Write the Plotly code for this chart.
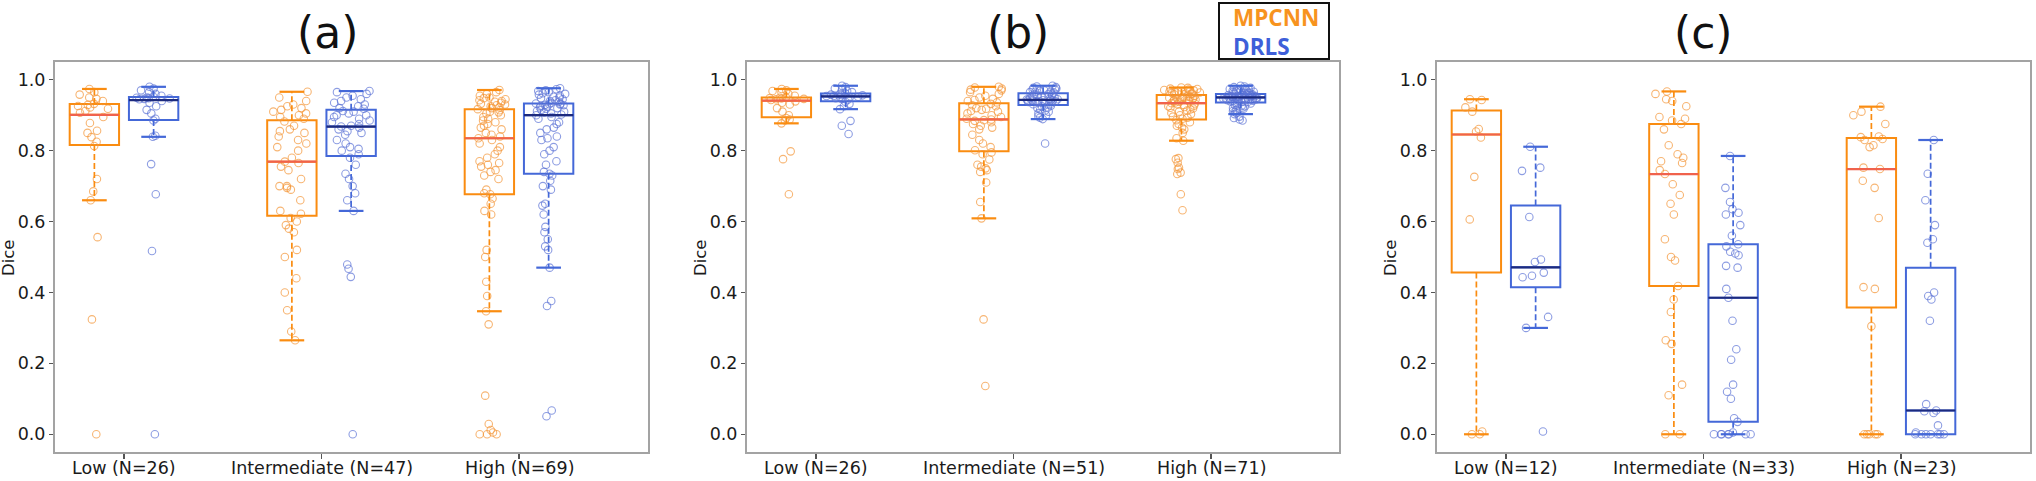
import numpy as np
import plotly.graph_objects as go

# ---------------- data ----------------
categories_a = ["Low (N=26)", "Intermediate (N=47)", "High (N=69)"]
categories_b = ["Low (N=26)", "Intermediate (N=51)", "High (N=71)"]
categories_c = ["Low (N=12)", "Intermediate (N=33)", "High (N=23)"]
panel_titles = ["(a)", "(b)", "(c)"]
methods = ["MPCNN", "DRLS"]
y_ticks = [0.0, 0.2, 0.4, 0.6, 0.8, 1.0]

# panel (a)
a_low_mpcnn = [0.0, 0.324, 0.556, 0.660, 0.685, 0.720, 0.813, 0.825, 0.838, 0.850, 0.856, 0.878, 0.895,
               0.907, 0.912, 0.918, 0.922, 0.926, 0.929, 0.932, 0.940, 0.946, 0.950, 0.958, 0.965, 0.974]
a_low_drls = [0.0, 0.517, 0.677, 0.762, 0.839, 0.842, 0.885, 0.890, 0.905, 0.915, 0.925, 0.935, 0.940,
              0.945, 0.946, 0.947, 0.948, 0.949, 0.950, 0.952, 0.955, 0.960, 0.965, 0.970, 0.975, 0.980]
a_int_mpcnn = [0.265, 0.29, 0.35, 0.40, 0.44, 0.50, 0.52, 0.57, 0.58, 0.59, 0.60, 0.61,
               0.622, 0.63, 0.66, 0.69, 0.695, 0.70, 0.70, 0.72, 0.745, 0.755, 0.765, 0.769,
               0.78, 0.80, 0.81, 0.82, 0.83, 0.84, 0.85, 0.855, 0.86, 0.87, 0.882,
               0.890, 0.895, 0.90, 0.905, 0.91, 0.915, 0.92, 0.925, 0.93, 0.94, 0.95, 0.966]
a_int_drls = [0.0, 0.444, 0.467, 0.479, 0.630, 0.66, 0.68, 0.70, 0.72, 0.735, 0.76, 0.78,
              0.790, 0.80, 0.805, 0.81, 0.82, 0.83, 0.845, 0.85, 0.855, 0.86, 0.865, 0.868,
              0.87, 0.875, 0.88, 0.885, 0.89, 0.895, 0.90, 0.90, 0.905, 0.91, 0.912,
              0.918, 0.92, 0.925, 0.93, 0.935, 0.94, 0.945, 0.95, 0.955, 0.96, 0.965, 0.968]
a_high_mpcnn = [0.0, 0.0, 0.0, 0.005, 0.012, 0.029, 0.109, 0.31,
                0.347, 0.39, 0.43, 0.50, 0.52, 0.62, 0.63, 0.65, 0.665, 0.677,
                0.68, 0.69, 0.72, 0.73, 0.74, 0.745, 0.755, 0.76, 0.765, 0.77, 0.78, 0.79, 0.80, 0.81, 0.82, 0.83,
                0.835,
                0.84, 0.845, 0.85, 0.86, 0.865, 0.87, 0.875, 0.88, 0.885, 0.89, 0.895, 0.90, 0.905, 0.908, 0.91, 0.914,
                0.917,
                0.92, 0.922, 0.925, 0.928, 0.93, 0.932, 0.935, 0.938, 0.94, 0.942, 0.945, 0.948, 0.95, 0.955, 0.96,
                0.965, 0.971]
a_high_drls = [0.051, 0.067, 0.362, 0.376,
               0.47, 0.52, 0.53, 0.55, 0.57, 0.585, 0.62, 0.645, 0.65, 0.69, 0.70, 0.715, 0.73, 0.735,
               0.74, 0.76, 0.77, 0.79, 0.80, 0.81, 0.83, 0.835, 0.84, 0.85, 0.86, 0.865, 0.875, 0.88, 0.89, 0.895,
               0.900,
               0.902, 0.905, 0.908, 0.91, 0.912, 0.915, 0.918, 0.92, 0.922, 0.924, 0.926, 0.928, 0.929, 0.93, 0.931,
               0.932, 0.933,
               0.935, 0.938, 0.94, 0.942, 0.945, 0.948, 0.95, 0.952, 0.955, 0.958, 0.96, 0.962, 0.965, 0.968, 0.97,
               0.973, 0.976]

# panel (b)
b_low_mpcnn = [0.677, 0.776, 0.798, 0.877, 0.885, 0.888, 0.892, 0.900, 0.91, 0.92, 0.93, 0.935, 0.939,
               0.943, 0.945, 0.946, 0.947, 0.948, 0.949, 0.9503, 0.955, 0.96, 0.965, 0.968, 0.97, 0.974]
b_low_drls = [0.847, 0.870, 0.884, 0.917, 0.925, 0.932, 0.938, 0.944, 0.946, 0.948, 0.950, 0.951, 0.952,
              0.954, 0.955, 0.956, 0.957, 0.958, 0.960, 0.962, 0.965, 0.968, 0.971, 0.975, 0.979, 0.983]
b_int_mpcnn = [0.136, 0.324,
               0.609, 0.655, 0.71, 0.74, 0.745, 0.75, 0.755, 0.76, 0.775, 0.79, 0.795,
               0.801, 0.81, 0.82, 0.83, 0.845, 0.86, 0.865, 0.87, 0.875, 0.88, 0.884, 0.886,
               0.888,
               0.89, 0.895, 0.90, 0.905, 0.91, 0.912, 0.915, 0.918, 0.92, 0.925, 0.928, 0.932,
               0.936, 0.94, 0.943, 0.946, 0.95, 0.955, 0.96, 0.965, 0.97, 0.972, 0.975, 0.978, 0.980]
b_int_drls = [0.820,
              0.889, 0.893, 0.897, 0.90, 0.905, 0.91, 0.913, 0.916, 0.92, 0.922, 0.925, 0.927,
              0.931, 0.933, 0.935, 0.936, 0.937, 0.938, 0.939, 0.940, 0.941, 0.941, 0.942, 0.942,
              0.943,
              0.944, 0.945, 0.946, 0.948, 0.95, 0.952, 0.954, 0.955, 0.956, 0.958, 0.959, 0.960,
              0.964, 0.965, 0.966, 0.967, 0.968, 0.970, 0.972, 0.973, 0.975, 0.977, 0.979, 0.981, 0.983]
b_high_mpcnn = [0.632, 0.677, 0.734, 0.738, 0.748, 0.752, 0.766, 0.776, 0.779,
                0.828, 0.835, 0.85, 0.86, 0.865, 0.87, 0.875, 0.88, 0.886,
                0.890, 0.893, 0.896, 0.90, 0.903, 0.906, 0.91, 0.913, 0.916, 0.919, 0.921, 0.923, 0.925, 0.927,
                0.929, 0.931, 0.933,
                0.934,
                0.936, 0.938, 0.94, 0.941, 0.942, 0.943, 0.944, 0.945, 0.946, 0.947, 0.948, 0.949, 0.950, 0.951,
                0.952, 0.953, 0.955,
                0.959, 0.96, 0.961, 0.962, 0.963, 0.964, 0.965, 0.966, 0.967, 0.968, 0.969, 0.970, 0.971, 0.972,
                0.974, 0.975, 0.977, 0.978]
b_high_drls = [0.885, 0.888, 0.892, 0.896,
               0.903, 0.906, 0.909, 0.912, 0.915, 0.918, 0.92, 0.922, 0.925, 0.927, 0.929, 0.931, 0.933, 0.935,
               0.937, 0.938, 0.939, 0.940, 0.941, 0.942, 0.943, 0.944, 0.944, 0.945, 0.946, 0.946, 0.947, 0.948,
               0.948, 0.949, 0.949,
               0.950,
               0.951, 0.951, 0.952, 0.952, 0.953, 0.953, 0.954, 0.954, 0.955, 0.955, 0.956, 0.956, 0.957, 0.957,
               0.958, 0.958, 0.959,
               0.961, 0.962, 0.963, 0.964, 0.965, 0.966, 0.967, 0.968, 0.969, 0.970, 0.971, 0.972, 0.974, 0.975,
               0.977, 0.979, 0.981, 0.983]

# panel (c)
c_low_mpcnn = [0.0, 0.0, 0.008, 0.606, 0.726, 0.837, 0.854, 0.861, 0.910, 0.922, 0.943, 0.945]
c_low_drls = [0.008, 0.300, 0.331, 0.443, 0.447, 0.456, 0.486, 0.493, 0.613, 0.743, 0.752, 0.811]
c_int_mpcnn = [0.0, 0.0, 0.11, 0.14, 0.255, 0.265, 0.345, 0.38, 0.418,
               0.49, 0.50, 0.55, 0.62, 0.65, 0.675, 0.705, 0.734,
               0.745, 0.765, 0.77, 0.78, 0.79, 0.815, 0.86, 0.875,
               0.885, 0.89, 0.895, 0.925, 0.94, 0.945, 0.96, 0.967]
c_int_drls = [0.0, 0.0, 0.0, 0.0, 0.0, 0.0, 0.0, 0.005, 0.035,
              0.045, 0.10, 0.12, 0.14, 0.21, 0.24, 0.32, 0.385,
              0.41, 0.47, 0.475, 0.505, 0.51, 0.515, 0.53, 0.536,
              0.56, 0.59, 0.62, 0.625, 0.635, 0.655, 0.695, 0.785]
c_high_mpcnn = [0.0, 0.0, 0.0, 0.0, 0.0, 0.305, 0.41, 0.415, 0.61, 0.695, 0.715, 0.748,
                0.752, 0.81, 0.815, 0.83, 0.833, 0.838, 0.84, 0.875, 0.90, 0.91, 0.924]
c_high_drls = [0.0, 0.0, 0.0, 0.0, 0.0, 0.0, 0.0, 0.005, 0.025, 0.06, 0.065, 0.067,
               0.085, 0.32, 0.38, 0.39, 0.40, 0.54, 0.55, 0.59, 0.66, 0.735, 0.83]

panels = [
    (categories_a, [[a_low_mpcnn, a_int_mpcnn, a_high_mpcnn], [a_low_drls, a_int_drls, a_high_drls]]),
    (categories_b, [[b_low_mpcnn, b_int_mpcnn, b_high_mpcnn], [b_low_drls, b_int_drls, b_high_drls]]),
    (categories_c, [[c_low_mpcnn, c_int_mpcnn, c_high_mpcnn], [c_low_drls, c_int_drls, c_high_drls]]),
]

# ---------------- geometry / style ----------------
W, H = 2036, 481
panel_px = [(55, 648), (747, 1339), (1437, 2030)]
frame_top, frame_bot = 62, 452
xlabel_y = 468
title_x = [327, 1018, 1703]
title_y = 33
box_w = 0.25
offsets = [-0.15, 0.15]
box_col = ["#FA8C10", "#4468D8"]
med_col = ["#F0624C", "#1C2A7E"]
pt_col = ["rgba(243,150,55,0.70)", "rgba(92,116,214,0.70)"]
leg_col = ["#F7931E", "#3E5FD9"]
frame_col = "#A3A3A3"
FONT = "DejaVu Sans"


def box_stats(vals):
    v = np.sort(np.asarray(vals, dtype=float))
    q1, med, q3 = np.percentile(v, [25, 50, 75])
    iqr = q3 - q1
    lo = v[v >= q1 - 1.5 * iqr].min()
    hi = v[v <= q3 + 1.5 * iqr].max()
    return q1, med, q3, lo, hi


fig = go.Figure()
layout_axes = {}
annotations = []

for i, (cats, data) in enumerate(panels):
    sfx = "" if i == 0 else str(i + 1)
    xa, ya = "x" + sfx, "y" + sfx
    for m in range(2):
        pos = [k + 1 + offsets[m] for k in range(3)]
        stats = [box_stats(g) for g in data[m]]
        q1s = [s[0] for s in stats]
        meds = [s[1] for s in stats]
        q3s = [s[2] for s in stats]
        # box body
        fig.add_trace(go.Box(
            x=pos, q1=q1s, median=meds, q3=q3s, lowerfence=q1s, upperfence=q3s,
            width=box_w, boxpoints=False, whiskerwidth=0,
            line=dict(color=box_col[m], width=2), fillcolor="rgba(0,0,0,0)",
            xaxis=xa, yaxis=ya, showlegend=False, hoverinfo="skip"))
        # dashed whiskers, solid caps, coloured median
        wx, wy, cx, cy, mx, my = [], [], [], [], [], []
        for p, s in zip(pos, stats):
            wx += [p, p, None, p, p, None]
            wy += [s[0], s[3], None, s[2], s[4], None]
            cx += [p - box_w / 4, p + box_w / 4, None, p - box_w / 4, p + box_w / 4, None]
            cy += [s[3], s[3], None, s[4], s[4], None]
            mx += [p - box_w / 2, p + box_w / 2, None]
            my += [s[1], s[1], None]
        fig.add_trace(go.Scatter(x=wx, y=wy, mode="lines", xaxis=xa, yaxis=ya,
                                 line=dict(color=box_col[m], width=1.7, dash="6px,3px"),
                                 showlegend=False, hoverinfo="skip"))
        fig.add_trace(go.Scatter(x=cx, y=cy, mode="lines", xaxis=xa, yaxis=ya,
                                 line=dict(color=box_col[m], width=2.2),
                                 showlegend=False, hoverinfo="skip"))
        fig.add_trace(go.Scatter(x=mx, y=my, mode="lines", xaxis=xa, yaxis=ya,
                                 line=dict(color=med_col[m], width=2.2),
                                 showlegend=False, hoverinfo="skip"))
    # jittered points on top
    for m in range(2):
        xs, ys = [], []
        for k, g in enumerate(data[m]):
            xs += [k + 1 + offsets[m]] * len(g)
            ys += list(g)
        fig.add_trace(go.Box(
            x=xs, y=ys, boxpoints="all", jitter=0.8, pointpos=0, width=box_w,
            line=dict(color="rgba(0,0,0,0)", width=0), fillcolor="rgba(0,0,0,0)",
            whiskerwidth=0, name=methods[m],
            marker=dict(symbol="circle-open", size=7.5, color=pt_col[m], line=dict(width=1.1)),
            xaxis=xa, yaxis=ya, showlegend=False, hoverinfo="skip"))

    x0, x1 = panel_px[i]
    unit = 197.5
    xr0 = 1 - 69 / unit
    xr1 = xr0 + (x1 - x0) / unit
    layout_axes["xaxis" + sfx] = dict(
        domain=[x0 / W, x1 / W], anchor=ya, range=[xr0, xr1],
        tickmode="array", tickvals=[1, 2, 3], showticklabels=False,
        ticks="outside", ticklen=5, tickwidth=1.3, tickcolor="#555555",
        showline=True, mirror=True, linecolor=frame_col, linewidth=2,
        showgrid=False, zeroline=False)
    layout_axes["yaxis" + sfx] = dict(
        domain=[1 - frame_bot / H, 1 - frame_top / H], anchor=xa, range=[-0.05, 1.05],
        tickmode="array", tickvals=y_ticks, ticktext=["%.1f" % t for t in y_ticks],
        ticks="outside", ticklen=4, tickwidth=1.3, tickcolor="#555555",
        showline=True, mirror=True, linecolor=frame_col, linewidth=2,
        showgrid=False, zeroline=False,
        tickfont=dict(family=FONT, size=17.5, color="#1a1a1a"))
    # category labels under each axis (placed in data x, so they follow the axis scale)
    for k, c in enumerate(cats):
        annotations.append(dict(text=c, x=k + 1, xref=xa, y=1 - xlabel_y / H, yref="paper",
                                xanchor="center", yanchor="middle", showarrow=False,
                                font=dict(family=FONT, size=17.5, color="#1a1a1a")))
    annotations.append(dict(text=panel_titles[i], x=title_x[i] / W, y=1 - title_y / H,
                            xref="paper", yref="paper", xanchor="center", yanchor="middle",
                            showarrow=False, font=dict(family=FONT, size=44, color="#111111")))
    annotations.append(dict(text="Dice", x=(x0 - 47) / W, y=1 - 258 / H,
                            xref="paper", yref="paper", xanchor="center", yanchor="middle",
                            textangle=-90, showarrow=False,
                            font=dict(family=FONT, size=16.5, color="#1a1a1a")))

# custom text legend (one two-line text, each line in its method colour)
leg_x0, leg_x1, leg_y0, leg_y1 = 1219, 1329, 3, 59
leg_text = "<br>".join('<span style="color:%s"><b>%s</b></span>' % (leg_col[m], methods[m]) for m in range(2))
annotations.append(dict(text=leg_text, x=1231 / W, y=1 - 32 / H, xref="paper", yref="paper",
                        xanchor="left", yanchor="middle", align="left", showarrow=False,
                        font=dict(family="Open Sans", size=22.5, color=leg_col[0])))

fig.update_layout(
    width=W, height=H, margin=dict(l=0, r=0, t=0, b=0),
    paper_bgcolor="white", plot_bgcolor="white", template="none",
    boxmode="overlay", showlegend=False,
    annotations=annotations,
    shapes=[dict(type="rect", xref="paper", yref="paper",
                 x0=leg_x0 / W, x1=leg_x1 / W, y0=1 - leg_y1 / H, y1=1 - leg_y0 / H,
                 line=dict(color="#111111", width=2), fillcolor="white", layer="below")],
    **layout_axes)

fig.write_html("out.html",
               config={"displayModeBar": False, "staticPlot": True},
               post_script="document.body.style.margin='0px';document.body.style.overflow='hidden';")
